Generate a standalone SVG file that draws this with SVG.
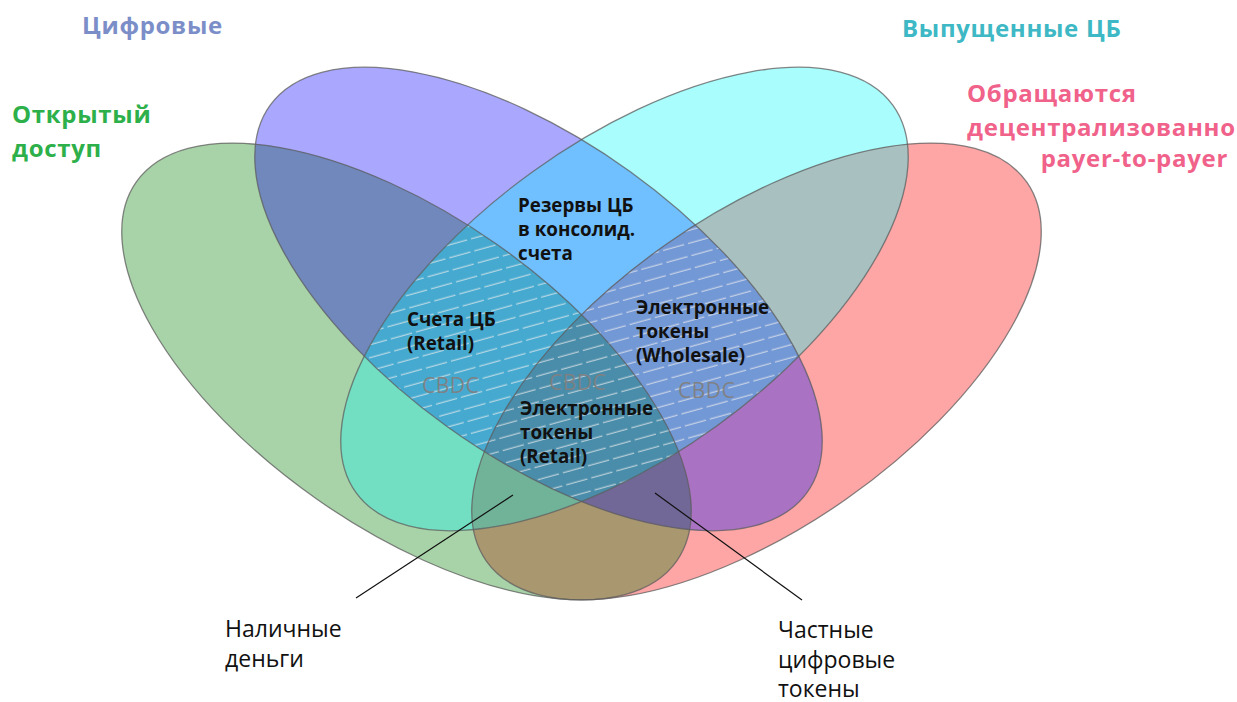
<svg xmlns="http://www.w3.org/2000/svg" xmlns:xlink="http://www.w3.org/1999/xlink" width="1237" height="702" viewBox="0 0 1237 702">
<style>
.outline{fill:none;stroke:#5c5c5c;stroke-opacity:0.75;stroke-width:1.3}
.title{font-family:"Open Sans","Noto Sans","DejaVu Sans",sans-serif;font-weight:700;font-size:24px;letter-spacing:0.7px}
.lbl{font-family:"Open Sans","Noto Sans","DejaVu Sans",sans-serif;font-weight:700;font-size:18.8px;fill:#111}
.cbdc{font-family:"Open Sans","Noto Sans","DejaVu Sans",sans-serif;font-size:21px;fill:#808080;fill-opacity:0.95;letter-spacing:0.5px}
.note{font-family:"Open Sans","Noto Sans","DejaVu Sans",sans-serif;font-size:23px;fill:#111}
.lead{stroke:#111;stroke-width:1.2;fill:none}
</style>
<defs>
<ellipse id="eG" cx="0" cy="0" rx="330" ry="156" transform="translate(406.5,371.5) rotate(35)"/>
<ellipse id="eR" cx="0" cy="0" rx="330" ry="156" transform="translate(756.5,371.5) rotate(-35)"/>
<ellipse id="eP" cx="0" cy="0" rx="331" ry="157" transform="translate(538.5,299) rotate(35.8)"/>
<ellipse id="eC" cx="0" cy="0" rx="331" ry="157" transform="translate(624.5,299) rotate(-35.8)"/>
<clipPath id="cG"><use xlink:href="#eG"/></clipPath>
<clipPath id="cR"><use xlink:href="#eR"/></clipPath>
<clipPath id="cP"><use xlink:href="#eP"/></clipPath>
<clipPath id="cC"><use xlink:href="#eC"/></clipPath>
<clipPath id="cGR"><use xlink:href="#eG"/><use xlink:href="#eR"/></clipPath>
<pattern id="hatch" patternUnits="userSpaceOnUse" width="52" height="12.5" patternTransform="rotate(-15.5)">
<line x1="0" y1="6" x2="52" y2="6" stroke="#eeeeee" stroke-opacity="0.85" stroke-width="1" stroke-dasharray="22 4"/>
</pattern>
</defs>

<g id="regions">
<use xlink:href="#eG" fill="#A8D3A8"/>
<use xlink:href="#eR" fill="#FEA6A6"/>
<use xlink:href="#eP" fill="#A9A8FE"/>
<use xlink:href="#eC" fill="#A9FDFC"/>
<g clip-path="url(#cG)"><use xlink:href="#eP" fill="#7088BC"/></g>
<g clip-path="url(#cG)"><use xlink:href="#eC" fill="#72DFC2"/></g>
<g clip-path="url(#cG)"><use xlink:href="#eR" fill="#A8976F"/></g>
<g clip-path="url(#cP)"><use xlink:href="#eC" fill="#70BFFE"/></g>
<g clip-path="url(#cP)"><use xlink:href="#eR" fill="#A972C2"/></g>
<g clip-path="url(#cC)"><use xlink:href="#eR" fill="#A8C0C0"/></g>
<g clip-path="url(#cG)"><g clip-path="url(#cP)"><use xlink:href="#eC" fill="#46AAD0"/></g></g>
<g clip-path="url(#cG)"><g clip-path="url(#cP)"><use xlink:href="#eR" fill="#716898"/></g></g>
<g clip-path="url(#cG)"><g clip-path="url(#cC)"><use xlink:href="#eR" fill="#71B399"/></g></g>
<g clip-path="url(#cP)"><g clip-path="url(#cC)"><use xlink:href="#eR" fill="#7398D6"/></g></g>
<g clip-path="url(#cG)"><g clip-path="url(#cR)"><g clip-path="url(#cP)"><use xlink:href="#eC" fill="#4A8DAA"/></g></g></g>
<g clip-path="url(#cP)"><g clip-path="url(#cC)"><rect x="0" y="0" width="1237" height="702" fill="url(#hatch)" clip-path="url(#cGR)"/></g></g>
</g>

<g id="set-open-access">
<use xlink:href="#eG" class="outline"/>
<text class="title" fill="#2DB04A" x="12" y="123">Открытый</text>
<text class="title" fill="#2DB04A" x="12" y="157">доступ</text>
</g>
<g id="set-decentralized">
<use xlink:href="#eR" class="outline"/>
<text class="title" fill="#F0628A" x="967" y="102">Обращаются</text>
<text class="title" fill="#F0628A" x="967" y="136">децентрализованно</text>
<text class="title" fill="#F0628A" x="1228" y="167" text-anchor="end">payer-to-payer</text>
</g>
<g id="set-digital">
<use xlink:href="#eP" class="outline"/>
<text class="title" fill="#7B8EC8" x="82" y="34">Цифровые</text>
</g>
<g id="set-cb-issued">
<use xlink:href="#eC" class="outline"/>
<text class="title" fill="#3DB8C4" x="902" y="37">Выпущенные ЦБ</text>
</g>

<g id="label-reserves">
<text class="lbl" x="518" y="212">Резервы ЦБ</text>
<text class="lbl" x="518" y="236">в консолид.</text>
<text class="lbl" x="518" y="260">счета</text>
</g>
<g id="label-cb-accounts">
<text class="lbl" x="407" y="326">Счета ЦБ</text>
<text class="lbl" x="407" y="350">(Retail)</text>
</g>
<g id="label-tokens-wholesale">
<text class="lbl" x="636" y="314">Электронные</text>
<text class="lbl" x="636" y="338">токены</text>
<text class="lbl" x="636" y="362">(Wholesale)</text>
</g>
<g id="label-tokens-retail">
<text class="lbl" x="520" y="415">Электронные</text>
<text class="lbl" x="520" y="439">токены</text>
<text class="lbl" x="520" y="463">(Retail)</text>
</g>
<g id="label-cbdc">
<text class="cbdc" x="422" y="393">CBDC</text>
<text class="cbdc" x="549" y="390">CBDC</text>
<text class="cbdc" x="678" y="398">CBDC</text>
</g>

<g id="connectors">
<line class="lead" x1="513" y1="495" x2="356" y2="598"/>
<line class="lead" x1="655" y1="493" x2="802" y2="600"/>
</g>
<g id="label-cash">
<text class="note" x="225" y="637">Наличные</text>
<text class="note" x="225" y="667">деньги</text>
</g>
<g id="label-private-tokens">
<text class="note" x="778" y="638">Частные</text>
<text class="note" x="778" y="668">цифровые</text>
<text class="note" x="778" y="697">токены</text>
</g>
</svg>
